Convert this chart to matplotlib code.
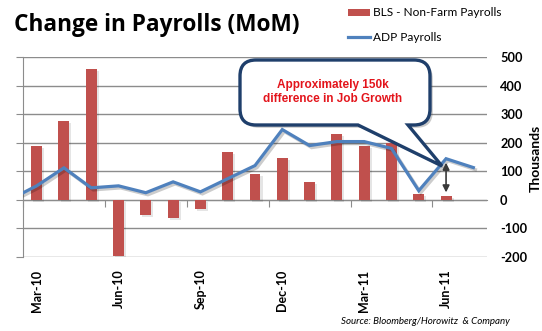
import matplotlib
matplotlib.use('Agg')
import matplotlib.pyplot as plt
from matplotlib.patches import Patch, PathPatch
from matplotlib.lines import Line2D
from matplotlib.path import Path
import matplotlib.patheffects as pe
import matplotlib.transforms as mtransforms
import numpy as np

plt.rcParams['axes.unicode_minus'] = False

# ---------------- data ----------------
months = ['Feb-10', 'Mar-10', 'Apr-10', 'May-10', 'Jun-10', 'Jul-10', 'Aug-10',
          'Sep-10', 'Oct-10', 'Nov-10', 'Dec-10', 'Jan-11', 'Feb-11', 'Mar-11',
          'Apr-11', 'May-11', 'Jun-11', 'Jul-11']
bls = [np.nan, 190, 275, 458, -197, -53, -63, -32, 169, 92, 148, 63, 232, 190,
       200, 22, 14, np.nan]
adp = [0, 49, 112, 42, 49, 25, 63, 28, 74, 120, 246, 190, 204, 204, 180, 32,
       144, 113]
tick_months = ['Mar-10', 'Jun-10', 'Sep-10', 'Dec-10', 'Mar-11', 'Jun-11']
yticks = [-200, -100, 0, 100, 200, 300, 400, 500]
bls_label = 'BLS - Non-Farm Payrolls'
adp_label = 'ADP Payrolls'
title = 'Change in Payrolls (MoM)'
callout_text = 'Approximately 150k\ndifference in Job Growth'
source = 'Source: Bloomberg/Horowitz  & Company'

# ---------------- style ----------------
W, H = 542, 331
RED = '#C0504D'
BLUE = '#4F81BD'
GRID = '#8C8C8C'
NAVY = '#1F3F6B'

fig = plt.figure(figsize=(W / 100, H / 100), dpi=100)
ax = fig.add_axes([23 / W, 1 - 257 / H, (487 - 23) / W, (257 - 57) / H])

x = np.arange(len(months))
shadow_bar = [pe.SimplePatchShadow(offset=(1.5, -1.5), shadow_rgbFace='#000000', alpha=0.1), pe.Normal()]
bars = ax.bar(x, bls, width=0.4, color=RED, zorder=3)
for b in bars:
    b.set_path_effects(shadow_bar)
ax.plot(x, adp, color=BLUE, lw=2.3, zorder=4, solid_joinstyle='miter',
        path_effects=[pe.SimpleLineShadow(offset=(1.5, -1.5), alpha=0.2), pe.Normal()])

ax.set_xlim(0.5, len(months) - 0.5)
ax.set_ylim(min(yticks), max(yticks))
ax.set_yticks(yticks)
ax.yaxis.grid(True, color=GRID, lw=1)
ax.set_axisbelow(True)
for s in ['top', 'right', 'bottom']:
    ax.spines[s].set_visible(False)
ax.spines['left'].set_color(GRID)
ax.tick_params(axis='y', left=True, right=False, labelleft=False, labelright=True,
               length=5, color=GRID, pad=4.4, labelsize=9.2)
for t in ax.get_yticklabels():
    t.set_fontfamily('Lato')
    t.set_fontweight('bold')

ax.set_xticks([months.index(m) for m in tick_months])
ax.set_xticklabels(tick_months, rotation=90, fontfamily='Lato', fontweight='bold',
                   fontsize=9)
ax.tick_params(axis='x', length=0, pad=9)

# zero axis with tick marks at category boundaries every 3 months
ymin, ymax = ax.get_ylim()
sec = ax.secondary_xaxis((0 - ymin) / (ymax - ymin))
sec.set_xticks([months.index(m) - 0.5 for m in tick_months])
sec.set_xticklabels([])
sec.tick_params(axis='x', length=5, color=GRID, direction='out')
sec.spines['bottom'].set_color(GRID)

fig.text(536 / W, 1 - 158 / H, 'Thousands', fontfamily='Lato', fontweight='bold',
         fontsize=10, rotation=90, ha='center', va='center')

# ---------------- texts ----------------
fig.text(14 / W, 1 - 25 / H, title, fontfamily='Open Sans', fontweight='bold',
         fontsize=16.3, va='center', ha='left')
fig.text(510 / W, 1 - 322 / H, source, fontfamily='Lato', style='italic',
         fontsize=7, va='center', ha='right')

handles = [Patch(facecolor=RED, edgecolor='none'),
           Line2D([0], [0], color=BLUE, lw=2.3)]
fig.legend(handles, [bls_label, adp_label], loc='upper left',
           bbox_to_anchor=(346 / W, 1 - 5 / H), frameon=False,
           prop={'family': 'Lato', 'size': 8.6}, handlelength=1.84,
           handleheight=0.5, handletextpad=0.25, labelspacing=1.15,
           borderpad=0.2, borderaxespad=0)

# ---------------- callout ----------------
pix = mtransforms.Affine2D().scale(1 / W, -1 / H).translate(0, 1) + fig.transFigure
x0, x1, y0, y1, r = 240, 430, 60, 125, 16
xa, xb = 358, 408
tx, ty = 442, 166
verts = [(x0 + r, y0), (x1 - r, y0), (x1, y0), (x1, y0 + r), (x1, y1 - r),
         (x1, y1), (x1 - r, y1), (xb, y1), (tx, ty), (xa, y1), (x0 + r, y1),
         (x0, y1), (x0, y1 - r), (x0, y0 + r), (x0, y0), (x0 + r, y0), (x0 + r, y0)]
codes = [Path.MOVETO, Path.LINETO, Path.CURVE3, Path.CURVE3, Path.LINETO,
         Path.CURVE3, Path.CURVE3, Path.LINETO, Path.LINETO, Path.LINETO,
         Path.LINETO, Path.CURVE3, Path.CURVE3, Path.LINETO, Path.CURVE3,
         Path.CURVE3, Path.CLOSEPOLY]
callout = PathPatch(Path(verts, codes), transform=pix, facecolor='white',
                    edgecolor=NAVY, lw=2.4, zorder=10, joinstyle='miter',
                    path_effects=[pe.SimplePatchShadow(offset=(2, -2), alpha=0.3), pe.Normal()])
fig.add_artist(callout)
fig.text(333 / W, 1 - 92 / H, callout_text, fontfamily='Liberation Sans',
         fontweight='bold', fontsize=8.45, color='#E3141B', ha='center',
         va='center', linespacing=1.3, zorder=11)

# double arrow between ADP and BLS for the last BLS month
i = months.index('Jun-11')
ax.annotate('', xy=(i, bls[i] + 12), xytext=(i, adp[i] - 14),
            arrowprops=dict(arrowstyle='<|-|>', color='#3A3A3A', lw=1.2,
                            mutation_scale=10, shrinkA=0, shrinkB=0), zorder=6)

fig.savefig('out.png', dpi=100)
